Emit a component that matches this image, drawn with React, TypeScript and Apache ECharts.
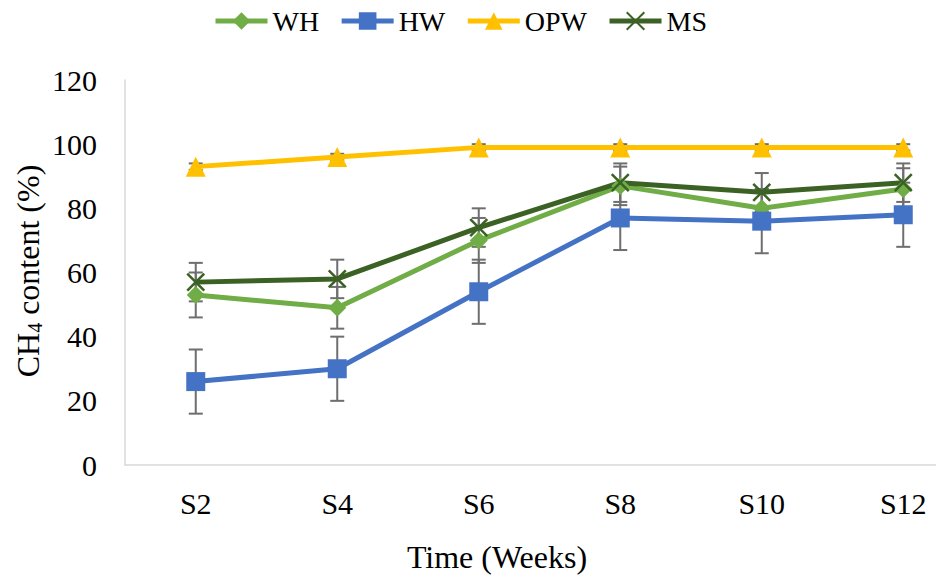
import React, { useEffect, useRef } from "react";
import * as echarts from "echarts";

const categories = ["S2", "S4", "S6", "S8", "S10", "S12"];
const whValues = [53, 49, 70, 87, 80, 86];
const hwValues = [26, 30, 54, 77, 76, 78];
const opwValues = [93, 96, 99, 99, 99, 99];
const msValues = [57, 58, 74, 88, 85, 88];
const whErrors = [7, 6.5, 7, 6, 6, 6.5];
const hwErrors = [10, 10, 10, 10, 10, 10];
const opwErrors = [1, 1, 1, 1, 1, 1];
const msErrors = [6, 6, 6, 6, 6, 6];

const FONT = "'Liberation Serif', 'Times New Roman', serif";
const C_WH = "#70AD47";
const C_HW = "#4472C4";
const C_OPW = "#FFC000";
const C_MS = "#3B6224";
const C_ERR = "#6E6E6E";

function errorSeries(values: number[], errors: number[]) {
  return {
    type: "custom",
    silent: true,
    z: 1,
    data: values.map((v, i) => [i, v, errors[i]]),
    renderItem: (params: any, api: any) => {
      const x = api.value(0);
      const v = api.value(1);
      const e = api.value(2);
      const top = api.coord([x, v + e]);
      const bot = api.coord([x, v - e]);
      const hw = 7;
      const style = { stroke: C_ERR, lineWidth: 2 };
      return {
        type: "group",
        children: [
          { type: "line", shape: { x1: top[0], y1: top[1], x2: bot[0], y2: bot[1] }, style },
          { type: "line", shape: { x1: top[0] - hw, y1: top[1], x2: top[0] + hw, y2: top[1] }, style },
          { type: "line", shape: { x1: bot[0] - hw, y1: bot[1], x2: bot[0] + hw, y2: bot[1] }, style },
        ],
      };
    },
  };
}

export default function App() {
  const ref = useRef<HTMLDivElement>(null);
  useEffect(() => {
    if (!ref.current) return;
    const chart = echarts.init(ref.current, null, { renderer: "svg" });
    const lineBase = (name: string, data: number[], color: string, symbol: string, size: number) => ({
      name,
      type: "line",
      data,
      z: 3,
      symbol,
      symbolSize: size,
      lineStyle: { color, width: 5 },
      itemStyle: { color },
    });
    chart.setOption({
      animation: false,
      backgroundColor: "#ffffff",
      textStyle: { fontFamily: FONT },
      legend: {
        data: ["WH", "HW", "OPW", "MS"],
        left: 213,
        top: 7,
        padding: 0,
        itemWidth: 52,
        itemHeight: 22,
        itemGap: 20,
        lineStyle: { width: 5 },
        textStyle: { fontFamily: FONT, fontSize: 28, color: "#000" },
      },
      grid: { left: 125, top: 80, width: 849, height: 385, containLabel: false },
      xAxis: {
        type: "category",
        data: categories,
        boundaryGap: true,
        axisLine: { show: true, lineStyle: { color: "#d9d9d9", width: 1.5 } },
        axisTick: { show: false },
        axisLabel: { fontFamily: FONT, fontSize: 30, color: "#000", margin: 23 },
        splitLine: { show: false },
      },
      yAxis: {
        type: "value",
        min: 0,
        max: 120,
        interval: 20,
        axisLine: { show: true, lineStyle: { color: "#d9d9d9", width: 1.5 } },
        axisTick: { show: false },
        axisLabel: { fontFamily: FONT, fontSize: 30, color: "#000", margin: 28 },
        splitLine: { show: false },
      },
      graphic: [
        {
          type: "text",
          x: 497,
          y: 557,
          style: {
            text: "Time (Weeks)",
            font: `32px ${FONT}`,
            fill: "#000",
            textAlign: "center",
            textVerticalAlign: "middle",
          },
        },
        {
          type: "text",
          x: 28,
          y: 271,
          rotation: Math.PI / 2,
          style: {
            text: "{a|CH}{s|4}{a| content (%)}",
            textAlign: "center",
            textVerticalAlign: "middle",
            rich: {
              a: { fontFamily: FONT, fontSize: 32, fill: "#000", color: "#000" },
              s: { fontFamily: FONT, fontSize: 20, fill: "#000", color: "#000", padding: [14, 0, 0, 0] },
            },
          },
        },
      ],
      series: [
        errorSeries(whValues, whErrors),
        errorSeries(hwValues, hwErrors),
        errorSeries(opwValues, opwErrors),
        errorSeries(msValues, msErrors),
        lineBase("WH", whValues, C_WH, "diamond", 18),
        lineBase("HW", hwValues, C_HW, "rect", 19),
        lineBase("OPW", opwValues, C_OPW, "triangle", 20),
        {
          ...lineBase("MS", msValues, C_MS, "path://M0 0L10 10M10 0L0 10", 17),
          itemStyle: { color: "none", borderColor: C_MS, borderWidth: 2.5 },
        },
      ],
    });
    return () => chart.dispose();
  }, []);
  return (
    <div style={{ width: 936, height: 576, position: "absolute", left: 0, top: 0, overflow: "hidden" }}>
      <div ref={ref} style={{ width: 990, height: 576, position: "absolute", left: 0, top: 0 }} />
    </div>
  );
}
